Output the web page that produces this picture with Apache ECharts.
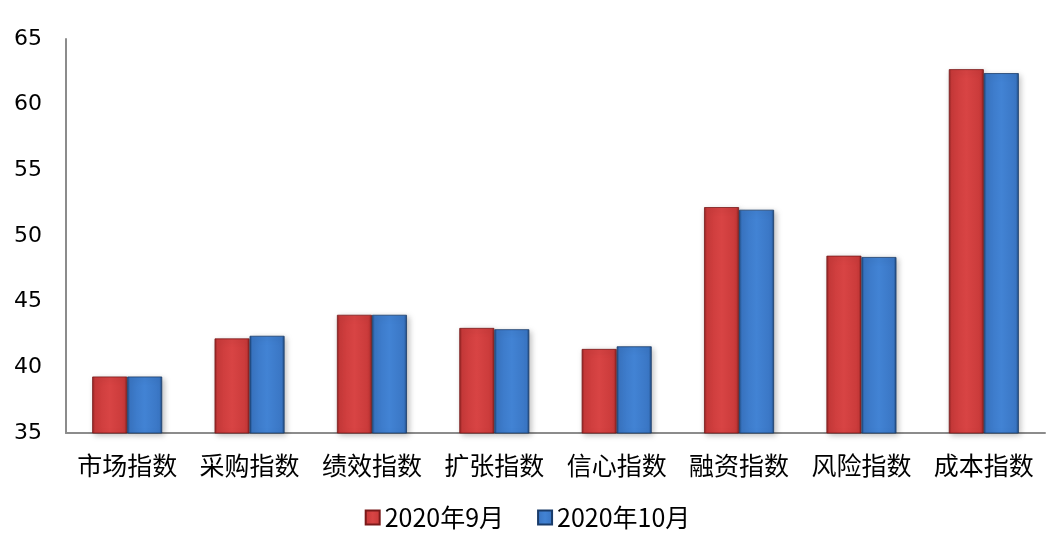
<!DOCTYPE html>
<html><head><meta charset="utf-8">
<script src="https://cdn.jsdelivr.net/npm/echarts@6/dist/echarts.min.js"></script>
<style>html,body{margin:0;padding:0;background:#fff}#c{width:1055px;height:543px}</style>
</head><body><div id="c"></div>
<script>
const categories = ['市场指数','采购指数','绩效指数','扩张指数','信心指数','融资指数','风险指数','成本指数'];
const seriesNames = ['2020年9月','2020年10月'];
const sep = [39.3, 42.2, 44.0, 43.0, 41.4, 52.2, 48.5, 62.7];
const oct = [39.3, 42.4, 44.0, 42.9, 41.6, 52.0, 48.4, 62.4];
const yTicks = {min: 35, max: 65, interval: 5};

function grad(edge, mid, light){
  return new echarts.graphic.LinearGradient(0,0,1,0,[
    {offset:0, color:edge},{offset:0.08, color:mid},{offset:0.5, color:light},{offset:0.92, color:mid},{offset:1, color:edge}
  ]);
}
const redFill = grad('#8e2222','#c93a3a','#d84444');
const blueFill = grad('#1f4a80','#3a76c4','#4283d4');

const chart = echarts.init(document.getElementById('c'));
chart.setOption({
  animation:false,
  grid:{left:66, right:10, top:39, bottom:110},
  legend:{
    bottom:8, left:'center', itemWidth:14, itemHeight:14, itemGap:33,
    icon:'rect',
    textStyle:{fontFamily:'Noto Sans CJK SC', fontSize:25, color:'#000'},
    data:seriesNames
  },
  xAxis:{
    type:'category', data:categories,
    axisLine:{lineStyle:{color:'#8c8c8c', width:2}},
    axisTick:{show:false},
    axisLabel:{interval:0, fontFamily:'Noto Sans CJK SC', fontSize:25, color:'#000', margin:20}
  },
  yAxis:{
    type:'value', min:yTicks.min, max:yTicks.max, interval:yTicks.interval,
    axisLine:{show:true, lineStyle:{color:'#8c8c8c', width:2}},
    axisTick:{show:false},
    splitLine:{show:false},
    axisLabel:{fontFamily:'DejaVu Sans', fontSize:22, color:'#000', margin:24}
  },
  series:[
    {name:seriesNames[0], type:'bar', data:sep, barWidth:35, barGap:'0%',
     itemStyle:{color:redFill, borderColor:'#7a1a1a', borderWidth:0.8, shadowColor:'rgba(0,0,0,0.25)', shadowBlur:6, shadowOffsetX:2, shadowOffsetY:2}},
    {name:seriesNames[1], type:'bar', data:oct, barWidth:35,
     itemStyle:{color:blueFill, borderColor:'#1a3c6a', borderWidth:0.8, shadowColor:'rgba(0,0,0,0.25)', shadowBlur:6, shadowOffsetX:2, shadowOffsetY:2}}
  ]
});
</script></body></html>
